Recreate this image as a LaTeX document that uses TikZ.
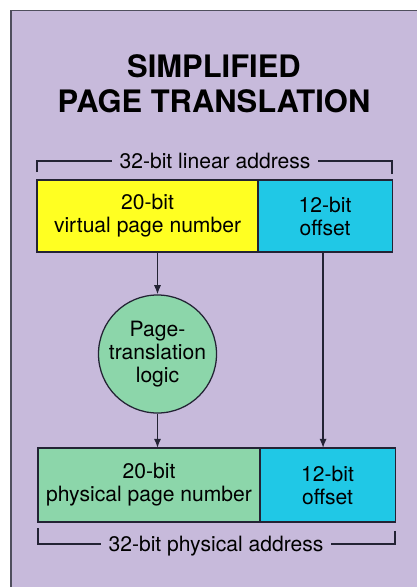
\documentclass[tikz,border=0pt]{standalone}
\usepackage{fontspec}
\setmainfont{TeX Gyre Heros}
\usepackage{xcolor}
\usetikzlibrary{arrows.meta, positioning, calc}
\definecolor{pagebg}{RGB}{199,186,219}
\definecolor{vpnyellow}{RGB}{255,255,34}
\definecolor{offcyan}{RGB}{32,200,230}
\definecolor{ppngreen}{RGB}{140,214,170}
\definecolor{inkline}{RGB}{35,35,52}
\tikzset{
  titletext/.style={
    align=center, font=\bfseries\fontsize{22}{25}\selectfont, text=black
  },
  fieldbox/.style={
    draw=inkline, line width=0.8pt, align=center, outer sep=0pt,
    font=\fontsize{15}{16.4}\selectfont, minimum height=1.8cm
  },
  logiccircle/.style={
    circle, draw=inkline, line width=0.9pt, fill=ppngreen, align=center,
    font=\fontsize{15}{16.4}\selectfont, minimum size=2.95cm, inner sep=0pt
  },
  addrlabel/.style={
    font=\fontsize{15}{16.4}\selectfont, inner xsep=5pt,
    text height=11pt, text depth=0pt
  },
  bracketline/.style={draw=inkline, line width=0.9pt},
  flowarrow/.style={
    -{Latex[length=2.3mm, width=1.8mm]}, draw=inkline, line width=1pt
  },
}

\begin{document}
\begin{tikzpicture}[x=0.025cm, y=-0.025cm]
  \useasboundingbox (0,0) rectangle (416,587);
  % Panel
  \fill[white] (0,0) rectangle (416,587);
  \draw[fill=pagebg, draw=inkline!80, line width=1.4pt] (11,10.5) rectangle (440,610);

  % Title
  \node[titletext] (title) at (214,84) {SIMPLIFIED\\PAGE TRANSLATION};

  % Linear address
  \node[addrlabel] (linaddr) at (215,161) {32-bit linear address};
  \node[fieldbox, fill=vpnyellow, anchor=north west, minimum width=5.525cm]
    (vpn) at (37,180) {20-bit\\virtual page number};
  \node[fieldbox, fill=offcyan, minimum width=3.35cm, right=0pt of vpn]
    (voff) {12-bit\\offset};
  \draw[bracketline] ([yshift=0.2cm]vpn.north west) |- (linaddr.west);
  \draw[bracketline] ([yshift=0.15cm]voff.north east) |- (linaddr.east);

  % Translation
  \node[logiccircle] (ptlogic) at (157.5,354) {Page-\\translation\\logic};

  % Physical address
  \node[fieldbox, fill=ppngreen, anchor=north west, minimum width=5.55cm,
    minimum height=1.85cm] (ppn) at (38,448) {20-bit\\physical page number};
  \node[fieldbox, fill=offcyan, minimum width=3.375cm, minimum height=1.85cm,
    right=0pt of ppn] (poff) {12-bit\\offset};
  \node[addrlabel] (physaddr) at (216,544) {32-bit physical address};
  \draw[bracketline] ([yshift=-0.15cm]ppn.south west) |- (physaddr.west);
  \draw[bracketline] ([yshift=-0.22cm]poff.south east) |- (physaddr.east);

  % Arrows
  \draw[flowarrow] (ptlogic |- vpn.south) -- (ptlogic.north);
  \draw[flowarrow] (ptlogic.south) -- (ptlogic |- ppn.north);
  \draw[flowarrow] ([xshift=-0.05cm]voff.south) -- ([xshift=-0.05cm]voff.south |- poff.north);
\end{tikzpicture}
\end{document}
